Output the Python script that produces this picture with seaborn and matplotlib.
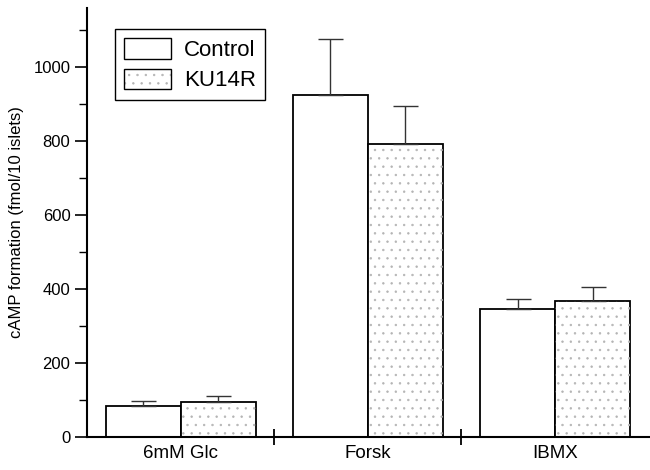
import numpy as np
import pandas as pd
import matplotlib
matplotlib.use('Agg')
from matplotlib import pyplot as plt
from matplotlib.patches import Rectangle
from matplotlib.legend_handler import HandlerTuple
from matplotlib.ticker import MultipleLocator
import seaborn as sns

# --- data ---
groups = ['6mM Glc', 'Forsk', 'IBMX']
conditions = ['Control', 'KU14R']
control_mean = [85, 924, 345]
control_err = [13, 152, 28]
ku14r_mean = [94, 793, 368]
ku14r_err = [16, 102, 37]

sns.set_theme(style='ticks')
plt.rcParams['font.family'] = ['Liberation Sans', 'DejaVu Sans']
plt.rcParams['hatch.linewidth'] = 0.5
for k in ['text.color', 'axes.labelcolor', 'xtick.color', 'ytick.color']:
    plt.rcParams[k] = 'black'

DOT = '#b4b4b4'

df = pd.DataFrame({
    'group': groups * 2,
    'cond': ['Control'] * 3 + ['KU14R'] * 3,
    'mean': control_mean + ku14r_mean,
    'err': control_err + ku14r_err,
})

fig = plt.figure(figsize=(6.5, 4.7), dpi=100)
ax = fig.add_axes([0.134, 0.070, 0.864, 0.913])

sns.barplot(data=df, x='group', y='mean', hue='cond', order=groups,
            hue_order=conditions, errorbar=None, palette=['white', 'white'],
            edgecolor='black', linewidth=1.3, width=0.8, ax=ax, legend=False)

# bars come out ordered by hue, then by group
bars = [p for p in ax.patches if isinstance(p, Rectangle)][:6]
for i, p in enumerate(bars):
    x = p.get_x() + p.get_width() / 2
    top = p.get_height()
    e = df['err'].iloc[i]
    ax.errorbar(x, top, yerr=[[0], [e]], fmt='none', ecolor='#333333',
                elinewidth=1.0, capsize=9, capthick=1.0, zorder=1)
    if i >= 3:
        ax.add_patch(Rectangle((p.get_x(), 0), p.get_width(), top,
                               fill=False, hatch='..', edgecolor=DOT,
                               linewidth=0, zorder=p.get_zorder() + 0.1))

# legend: dotted fill drawn under a black outline
h1 = Rectangle((0, 0), 1, 1, facecolor='white', edgecolor='black', lw=1.0)
h2_fill = Rectangle((0, 0), 1, 1, fill=False, hatch='..', edgecolor=DOT,
                    lw=0)
h2_edge = Rectangle((0, 0), 1, 1, fill=False, edgecolor='black', lw=1.0)
leg = ax.legend([h1, (h2_fill, h2_edge)], conditions, loc='upper left',
                bbox_to_anchor=(0.0497, 0.951), borderaxespad=0,
                handler_map={tuple: HandlerTuple(ndivide=1, pad=0)},
                fontsize=16, frameon=True, fancybox=False,
                edgecolor='black', framealpha=1,
                handlelength=2.1, handleheight=1.05, handletextpad=0.6,
                borderpad=0.4, labelspacing=0.35)
leg.get_frame().set_linewidth(1.0)

ax.set_xlim(-0.5, 2.5)
ax.set_ylim(0, 1160)
ax.yaxis.set_major_locator(MultipleLocator(200))
ax.yaxis.set_minor_locator(MultipleLocator(100))
ax.set_xticks([0, 1, 2])
ax.set_xticklabels(groups, fontsize=13.5)
ax.set_xticks([0.5, 1.5], minor=True)
ax.tick_params(axis='x', which='major', length=0, pad=6)
ax.tick_params(axis='x', which='minor', direction='inout', length=11,
               width=1.3, color='black')
ax.tick_params(axis='y', which='major', direction='out', length=9,
               width=1.2, labelsize=12, pad=3, color='black')
ax.tick_params(axis='y', which='minor', direction='out', length=6,
               width=1.0, color='black')

ax.set_xlabel('')
ax.set_ylabel('cAMP formation (fmol/10 islets)', fontsize=12, labelpad=7)
sns.despine(ax=ax)
for s in ['left', 'bottom']:
    ax.spines[s].set_linewidth(1.5)
    ax.spines[s].set_color('black')

plt.savefig('out.png', dpi=100)
plt.close()
